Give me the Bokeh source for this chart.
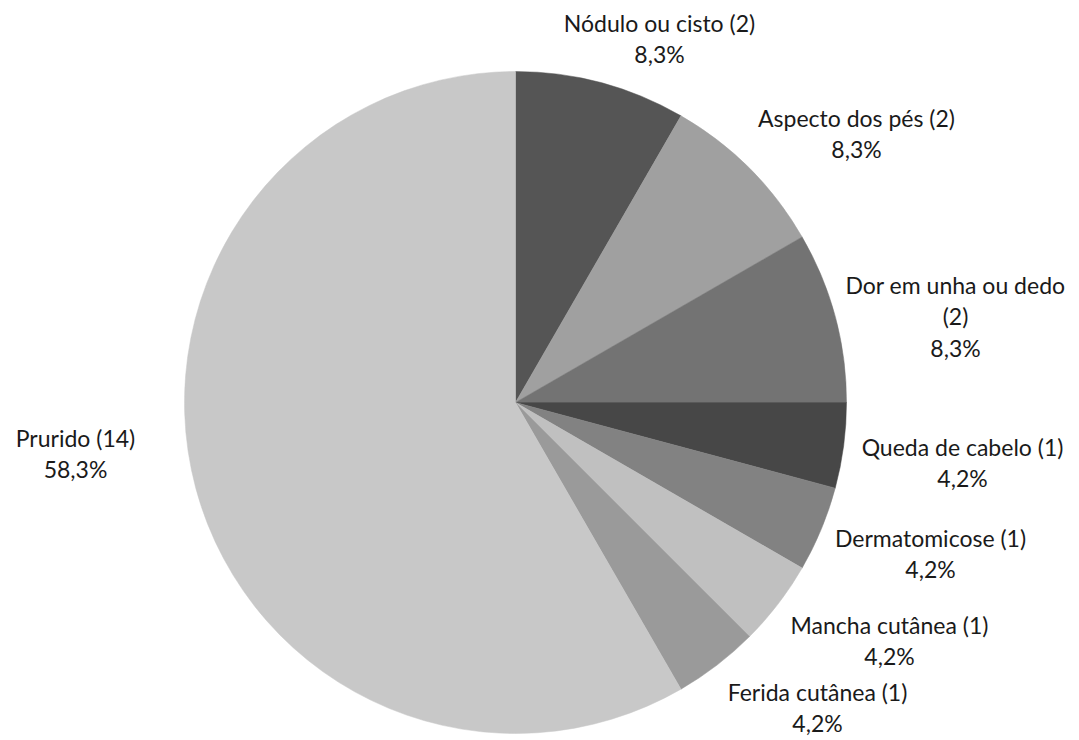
from bokeh.plotting import figure
from bokeh.models import Range1d, ColumnDataSource
from bokeh.core.properties import value
from bokeh.embed import file_html
from bokeh.resources import INLINE
import math

categories = ["Nódulo ou cisto", "Aspecto dos pés", "Dor em unha ou dedo", "Queda de cabelo",
              "Dermatomicose", "Mancha cutânea", "Ferida cutânea", "Prurido"]
counts = [2, 2, 2, 1, 1, 1, 1, 14]
percent_labels = ["8,3%", "8,3%", "8,3%", "4,2%", "4,2%", "4,2%", "4,2%", "58,3%"]
colors = ["#555555", "#a0a0a0", "#737373", "#474747", "#828282", "#c0c0c0", "#9a9a9a", "#c8c8c8"]

# label texts (line breaks as in the reference)
name_lines = ["Nódulo ou cisto (2)", "Aspecto dos pés (2)", "Dor em unha ou dedo\n(2)", "Queda de cabelo (1)",
              "Dermatomicose (1)", "Mancha cutânea (1)", "Ferida cutânea (1)", "Prurido (14)"]
# label centres in page pixels (layout)
label_px = [(659, 38), (856, 133), (955, 316), (962, 462), (930, 553), (889, 640), (817, 707), (75, 453)]

W, H = 1079, 740
p = figure(width=W, height=H, output_backend="svg", toolbar_location=None,
           x_range=Range1d(0, W), y_range=Range1d(0, H), min_border=0)
p.axis.visible = False
p.grid.visible = False
p.outline_line_color = None

cx, cy, R = 515, H - 402, 331
total = sum(counts)
starts, ends = [], []
acc = 0
for c in counts:
    starts.append(math.pi / 2 - 2 * math.pi * acc / total)
    acc += c
    ends.append(math.pi / 2 - 2 * math.pi * acc / total)

src = ColumnDataSource(dict(start=starts, end=ends, color=colors))
p.wedge(x=cx, y=cy, radius=R, start_angle="start", end_angle="end", direction="clock",
        fill_color="color", line_color="color", line_width=0.5, source=src)

texts = [n + "\n" + pc for n, pc in zip(name_lines, percent_labels)]
lx = [x for x, _ in label_px]
ly = [H - y for _, y in label_px]
p.text(x=lx, y=ly, text=texts, text_align="center", text_baseline="middle",
       text_font=value("Lato"), text_font_size="23px", text_color="#1a1a1a",
       text_line_height=1.13)

open("out.html", "w").write(file_html(p, INLINE))
